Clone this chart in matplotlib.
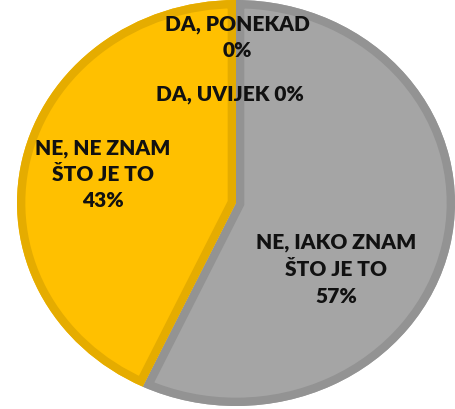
import matplotlib
matplotlib.use("Agg")
import matplotlib.pyplot as plt
from matplotlib.patches import PathPatch

# data
labels = ["DA, UVIJEK", "DA, PONEKAD", "NE, IAKO ZNAM\nŠTO JE TO", "NE, NE ZNAM\nŠTO JE TO"]
values = [0, 0, 57, 43]
colors = ["#5B9BD5", "#ED7D31", "#A5A5A5", "#FFC000"]
edge_colors = ["#4A88C0", "#D56A20", "#939393", "#E5AC00"]

W, H = 455, 409
plt.rcParams['font.family'] = ['Lato', 'DejaVu Sans']

fig = plt.figure(figsize=(W / 100, H / 100), dpi=100)
ax = fig.add_axes([17 / W, 3 / H, 438 / W, 406 / H])

wedges, _ = ax.pie(values, colors=colors, startangle=90, counterclock=False,
                   radius=1.0, wedgeprops=dict(linewidth=0))
ax.set_aspect('auto')
ax.set_xlim(-1, 1)
ax.set_ylim(-1, 1)
ax.axis('off')

# inner stroke: a double-width outline clipped to each wedge
for w, ec, v in zip(wedges, edge_colors, values):
    if v == 0:
        continue
    outline = PathPatch(w.get_path(), transform=w.get_transform(), fill=False,
                        edgecolor=ec, linewidth=12, joinstyle='miter')
    ax.add_patch(outline)
    outline.set_clip_path(w.get_path(), w.get_transform())

total = sum(values)
pct = [round(v / total * 100) for v in values]

# label layout: (x centre, baseline of first line, line gap) in pixels
label_pos = [(230, 100, 0), (237, 30, 27), (336, 248, 27.5), (103, 155, 26)]
inline = [True, False, False, False]

for lab, p, (x, y, gap), one in zip(labels, pct, label_pos, inline):
    if one:
        lines = [f"{lab} {p}%"]
    else:
        lines = lab.split("\n") + [f"{p}%"]
    for k, line in enumerate(lines):
        fig.text(x / W, 1 - (y + k * gap) / H, line, ha='center', va='baseline',
                 fontsize=15, fontweight='heavy', color='#111111')

fig.savefig("out.png", dpi=100)
